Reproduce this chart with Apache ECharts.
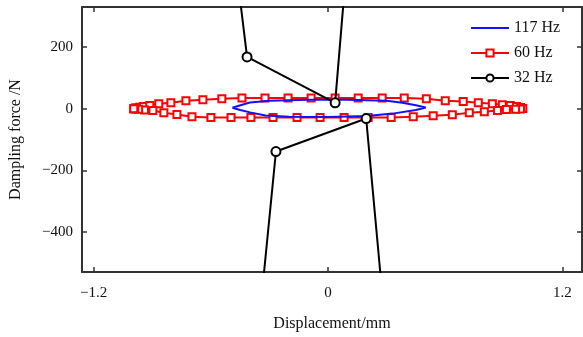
<!DOCTYPE html>
<html>
<head>
<meta charset="utf-8">
<script src="https://cdn.jsdelivr.net/npm/echarts@6/dist/echarts.min.js"></script>
<style>
  html, body { margin: 0; padding: 0; background: #fff; }
  #chart { width: 583px; height: 337px; }
</style>
</head>
<body>
<div id="chart"></div>
<script>
// 117 Hz loop (displacement mm, force N)
const hz117 = [
  [-0.49, 3], [-0.44, 13], [-0.40, 20], [-0.30, 26], [-0.10, 29], [0.10, 29],
  [0.30, 26], [0.38, 19], [0.45, 11], [0.50, 4],
  [0.45, -4], [0.33, -16], [0.20, -24], [0.00, -27], [-0.20, -26],
  [-0.32, -22], [-0.40, -12], [-0.45, -4], [-0.49, 3]
];

// 60 Hz loop, upper branch left->right then lower branch right->left
const hz60 = [
  [-0.995, 0], [-0.985, 3], [-0.965, 5], [-0.945, 7], [-0.913, 10], [-0.867, 16],
  [-0.805, 19], [-0.728, 26], [-0.641, 29], [-0.544, 32], [-0.441, 35], [-0.323, 35],
  [-0.205, 35], [-0.087, 35], [0.036, 35], [0.154, 35], [0.277, 35], [0.390, 35],
  [0.503, 32], [0.600, 26], [0.692, 23], [0.769, 19], [0.841, 16], [0.892, 13],
  [0.933, 10], [0.965, 7], [0.985, 4], [0.997, 1],
  [0.985, -1], [0.960, -2], [0.913, -3], [0.867, -6], [0.800, -10], [0.723, -13],
  [0.636, -20], [0.538, -23], [0.436, -26], [0.323, -29], [0.205, -29], [0.082, -29],
  [-0.041, -29], [-0.159, -29], [-0.282, -29], [-0.395, -29], [-0.497, -29], [-0.600, -29],
  [-0.697, -26], [-0.774, -19], [-0.841, -13], [-0.897, -6], [-0.940, -4], [-0.970, -2],
  [-0.990, -1], [-0.995, 0]
];

// 32 Hz: only a few points fall inside the window, the rest run off the plot
const hz32 = [
  [0.165, 1000], [0.036, 19], [-0.415, 168], [-0.574, 1000],
  ['-', '-'],
  [-0.401, -1000], [-0.267, -139], [0.195, -32], [0.335, -1000]
];

const xTicks = [-1.2, 0, 1.2];
const yTicks = [-400, -200, 0, 200];

const fontFamily = '"Liberation Serif", "Times New Roman", serif';

function minusFmt(v) {
  return String(v).replace('-', '\u2212');
}

const chart = echarts.init(document.getElementById('chart'));

const axisLineStyle = { show: true, onZero: false, lineStyle: { color: '#333', width: 2 } };
const tickStyle = { inside: true, length: 5, lineStyle: { color: '#333', width: 1.5 } };

chart.setOption({
  animation: false,
  textStyle: { fontFamily: fontFamily },
  grid: { left: 82, right: 1, top: 7, bottom: 63 },
  legend: {
    orient: 'vertical',
    left: 465,
    top: 15,
    itemWidth: 38,
    itemHeight: 9,
    itemGap: 9,
    textStyle: { fontFamily: fontFamily, fontSize: 16, color: '#111' },
    data: [
      { name: '117 Hz', itemStyle: { opacity: 0 } },
      '60 Hz',
      '32 Hz'
    ]
  },
  xAxis: [
    {
      type: 'value', min: -1.26, max: 1.3,
      name: 'Displacement/mm', nameLocation: 'middle', nameGap: 44,
      nameTextStyle: { fontFamily: fontFamily, fontSize: 16, color: '#111' },
      axisLine: axisLineStyle,
      axisTick: Object.assign({ customValues: xTicks }, tickStyle),
      axisLabel: { customValues: xTicks, formatter: minusFmt, margin: 14, fontSize: 15, color: '#111', fontFamily: fontFamily },
      splitLine: { show: false }
    },
    {
      type: 'value', min: -1.26, max: 1.3, position: 'top',
      axisLine: axisLineStyle,
      axisTick: Object.assign({ customValues: xTicks }, tickStyle),
      axisLabel: { show: false },
      splitLine: { show: false }
    }
  ],
  yAxis: [
    {
      type: 'value', min: -530, max: 330,
      name: 'Dampling force /N', nameLocation: 'middle', nameGap: 58,
      nameTextStyle: { fontFamily: fontFamily, fontSize: 16, color: '#111' },
      axisLine: axisLineStyle,
      axisTick: Object.assign({ customValues: yTicks }, tickStyle),
      axisLabel: { customValues: yTicks, formatter: minusFmt, margin: 9, fontSize: 15, color: '#111', fontFamily: fontFamily },
      splitLine: { show: false }
    },
    {
      type: 'value', min: -530, max: 330, position: 'right',
      axisLine: axisLineStyle,
      axisTick: Object.assign({ customValues: yTicks }, tickStyle),
      axisLabel: { show: false },
      splitLine: { show: false }
    }
  ],
  series: [
    {
      name: '117 Hz',
      type: 'line',
      data: hz117,
      symbol: 'none',
      z: 3,
      lineStyle: { color: '#1010ff', width: 2 },
      itemStyle: { color: '#1010ff' }
    },
    {
      name: '60 Hz',
      type: 'line',
      data: hz60,
      symbol: 'rect',
      symbolSize: 7,
      z: 2,
      lineStyle: { color: '#ff0000', width: 2 },
      itemStyle: { color: '#ffffff', borderColor: '#ff0000', borderWidth: 2 }
    },
    {
      name: '32 Hz',
      type: 'line',
      data: hz32,
      symbol: 'circle',
      symbolSize: 9,
      connectNulls: false,
      z: 4,
      lineStyle: { color: '#000', width: 2 },
      itemStyle: { color: '#ffffff', borderColor: '#000', borderWidth: 2 }
    }
  ]
});
</script>
</body>
</html>
